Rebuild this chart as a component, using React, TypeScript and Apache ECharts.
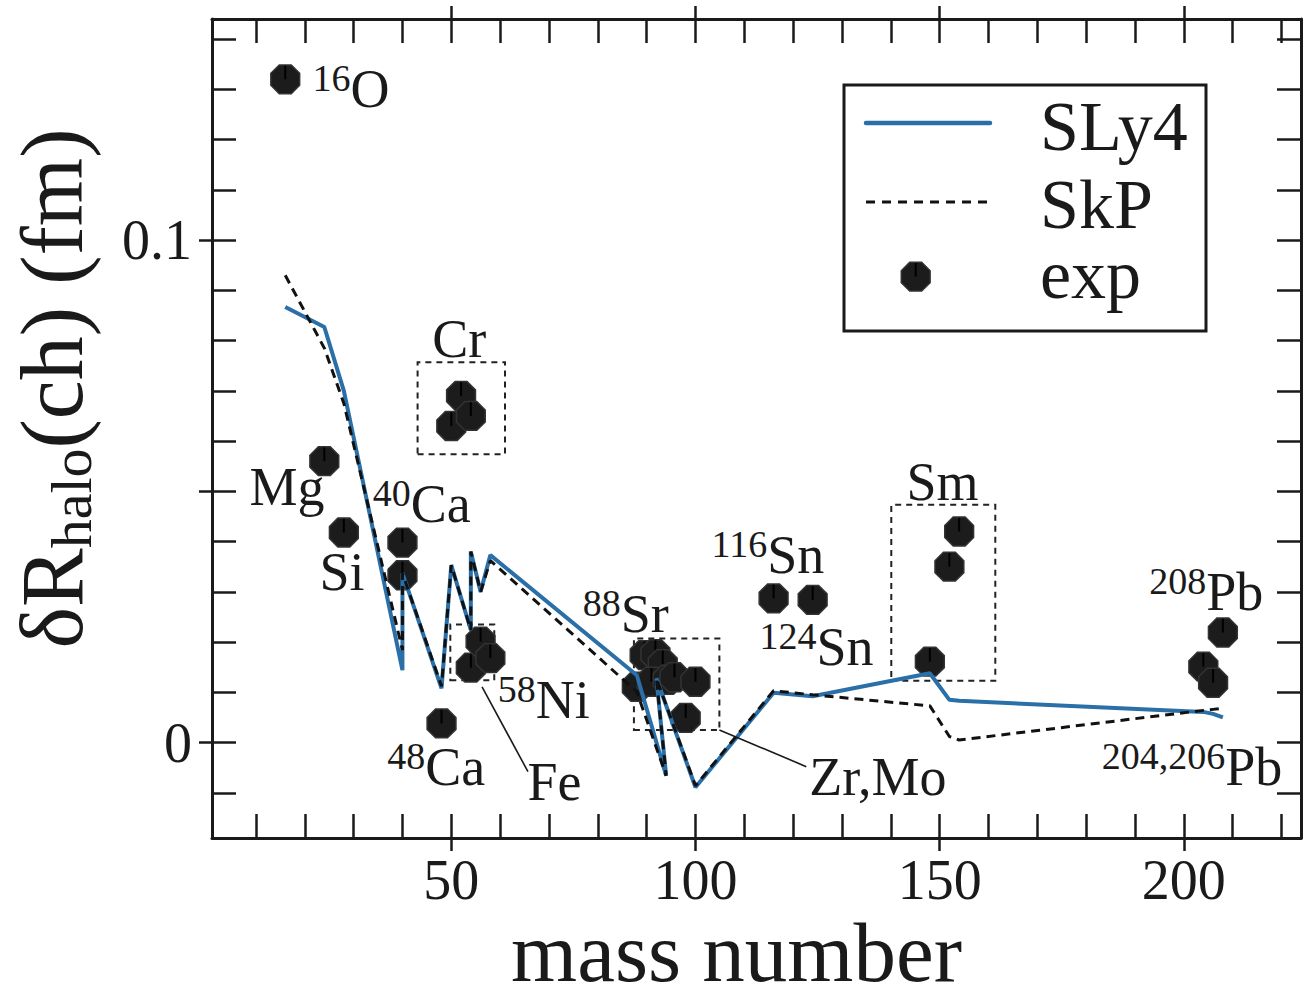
import React, { useEffect, useRef } from "react";
import * as echarts from "echarts";

// Axis extents and ticks (mass number on x, halo radius difference in fm on y)
const X_MIN = 1;
const X_MAX = 224;
const Y_MIN = -0.019;
const Y_MAX = 0.144;
const X_MINOR_TICKS = [10, 20, 30, 40, 50, 60, 70, 80, 90, 100, 110, 120, 130, 140, 150, 160, 170, 180, 190, 200, 210, 220];
const X_MAJOR_TICKS = [50, 100, 150, 200];
const Y_MINOR_TICKS = [-0.01, 0, 0.01, 0.02, 0.03, 0.04, 0.05, 0.06, 0.07, 0.08, 0.09, 0.1, 0.11, 0.12, 0.13, 0.14];
const Y_MAJOR_TICKS = [0, 0.05, 0.1];
const Y_TICK_LABELS = [0, 0.1];

// SLy4 Skyrme calculation, nuclei in the order they are connected
const SLY4 = [
  [16, 0.0867], [24, 0.0827], [28, 0.07], [40, 0.0144], [40, 0.0337], [48, 0.0108],
  [50, 0.0353], [54, 0.0224], [54, 0.038], [56, 0.03], [58, 0.0373], [88, 0.0134],
  [94, -0.0066], [92, 0.0128], [100, -0.0089], [116, 0.0099], [124, 0.0092],
  [148, 0.0138], [152, 0.0085], [154, 0.0083], [204, 0.0061], [206, 0.0057], [208, 0.005],
];

// SkP Skyrme calculation
const SKP = [
  [16, 0.093], [24, 0.0785], [28, 0.0675], [40, 0.0184], [40, 0.0337], [48, 0.0112],
  [50, 0.0353], [54, 0.0224], [54, 0.038], [56, 0.03], [58, 0.0362], [88, 0.0101],
  [94, -0.0066], [92, 0.0128], [100, -0.0086], [116, 0.0103], [124, 0.0095],
  [148, 0.0073], [152, 0.0012], [154, 0.0005], [204, 0.0064], [206, 0.0066], [208, 0.0068],
];

// Experimental values
const EXP = [
  [16, 0.132], [24, 0.056], [28, 0.0418], [40, 0.0398], [40, 0.0333], [48, 0.0038],
  [50, 0.063], [52, 0.069], [54, 0.065],
  [54, 0.0149], [56, 0.0201], [58, 0.0168],
  [88, 0.0111], [89.6, 0.0174], [91.8, 0.0176], [93.3, 0.0156], [91, 0.0121],
  [94.3, 0.0125], [95.7, 0.013], [100, 0.0121], [98, 0.0049],
  [116, 0.0287], [124, 0.0284],
  [148, 0.0161], [152, 0.035], [154, 0.042],
  [204, 0.0151], [206, 0.0119], [208, 0.0219],
];

// Nucleus labels (rich text) and where their left/middle anchor sits, in data units
const LABEL_TEXTS = [
  "{sup|16}{el|O}", "{el|Mg}", "{el|Si}", "{sup|40}{el|Ca}", "{el|Cr}", "{sup|48}{el|Ca}",
  "{sup|58}{el|Ni}", "{el|Fe}", "{sup|88}{el|Sr}", "{sup|116}{el|Sn}", "{sup|124}{el|Sn}",
  "{el|Sm}", "{el|Zr,Mo}", "{sup|208}{el|Pb}", "{sup|204,206}{el|Pb}",
];
const LABEL_ANCHORS = [
  [21.6, 0.13], [8.7, 0.0508], [23.0, 0.0339], [33.9, 0.0475], [46.1, 0.0803], [36.9, -0.0049],
  [59.5, 0.0085], [65.6, -0.0079], [76.9, 0.0256], [103.3, 0.0373], [113.1, 0.019],
  [143.2, 0.0518], [123.3, -0.0069], [192.9, 0.03], [183.2, -0.0049],
];

// Dotted frames around isotope groups: [xFrom, yFrom, xTo, yTo]
const GROUP_FRAMES = [
  [43.1, 0.0574, 61.0, 0.0757],
  [49.8, 0.0124, 58.8, 0.0235],
  [87.4, 0.0025, 104.9, 0.0207],
  [140.1, 0.0123, 161.4, 0.0473],
];

// Leader lines from a group to its label: [x1, y1, x2, y2]
const LEADERS = [
  [56.3, 0.0111, 65.7, -0.0058],
  [104.9, 0.0025, 122.7, -0.0048],
];

const FONT = '"Liberation Serif", "DejaVu Serif", serif';
const INK = "#1a1a1a";
const BLUE = "#2a6fa8";
const MARKER_R = 15.6;

function octagon(cx: number, cy: number, r: number) {
  const pts: number[][] = [];
  for (let k = 0; k < 8; k++) {
    const a = Math.PI / 8 + (k * Math.PI) / 4;
    pts.push([cx + r * Math.cos(a), cy + r * Math.sin(a)]);
  }
  return pts;
}

function markerGroup(cx: number, cy: number) {
  return [
    {
      type: "polygon",
      shape: { points: octagon(cx, cy, MARKER_R) },
      style: { fill: "#1c1c1c", stroke: "#333", lineWidth: 1.5 },
    },
    {
      type: "line",
      shape: { x1: cx, y1: cy - MARKER_R * 0.88, x2: cx, y2: cy },
      style: { stroke: "#000", lineWidth: 2 },
    },
  ];
}

export default function App() {
  const ref = useRef<HTMLDivElement>(null);

  useEffect(() => {
    if (!ref.current) return;
    const chart = echarts.init(ref.current, null, { renderer: "svg" });

    const frameLine = { show: true, onZero: false, lineStyle: { color: INK, width: 3 } };
    const hiddenLine = { show: false, onZero: false };
    const innerTicks = (vals: number[]) => ({
      show: true,
      inside: true,
      length: 24,
      customValues: vals,
      lineStyle: { color: INK, width: 2.5 },
    });
    const outerTicks = (vals: number[]) => ({
      show: true,
      inside: false,
      length: 13,
      customValues: vals,
      lineStyle: { color: INK, width: 2.5 },
    });
    const xCommon = { type: "value", min: X_MIN, max: X_MAX, splitLine: { show: false } };
    const yCommon = { type: "value", min: Y_MIN, max: Y_MAX, splitLine: { show: false } };

    const option = {
      animation: false,
      backgroundColor: "#ffffff",
      grid: { left: 212, right: 3, top: 19, bottom: 164, containLabel: false, outerBoundsMode: "none" },
      xAxis: [
        { ...xCommon, position: "bottom", axisLine: frameLine, axisTick: innerTicks(X_MINOR_TICKS), axisLabel: { show: false } },
        {
          ...xCommon,
          position: "bottom",
          axisLine: hiddenLine,
          axisTick: outerTicks(X_MAJOR_TICKS),
          axisLabel: { show: true, customValues: X_MAJOR_TICKS, margin: 14, fontFamily: FONT, fontSize: 56, color: INK },
          name: "mass number",
          nameLocation: "middle",
          nameGap: 79,
          nameMoveOverlap: false,
          nameTextStyle: { fontFamily: FONT, fontSize: 85, lineHeight: 70, color: INK, padding: [0, 40, 0, 0] },
        },
        { ...xCommon, position: "top", axisLine: frameLine, axisTick: innerTicks(X_MINOR_TICKS), axisLabel: { show: false } },
        { ...xCommon, position: "top", axisLine: hiddenLine, axisTick: outerTicks(X_MAJOR_TICKS), axisLabel: { show: false } },
      ],
      yAxis: [
        { ...yCommon, position: "left", axisLine: frameLine, axisTick: innerTicks(Y_MINOR_TICKS), axisLabel: { show: false } },
        {
          ...yCommon,
          position: "left",
          axisLine: hiddenLine,
          axisTick: outerTicks(Y_MAJOR_TICKS),
          axisLabel: { show: true, customValues: Y_TICK_LABELS, margin: 20, fontFamily: FONT, fontSize: 56, color: INK },
          name: "{m|δR}{s|halo}{m|(ch) (fm)}",
          nameLocation: "middle",
          nameGap: 112,
          nameMoveOverlap: false,
          nameTextStyle: {
            fontFamily: FONT,
            color: INK,
            padding: [0, 0, 0, 80],
            rich: {
              m: { fontFamily: FONT, fontSize: 88, lineHeight: 96, color: INK },
              s: { fontFamily: FONT, fontSize: 58, lineHeight: 50, verticalAlign: "bottom", color: INK },
            },
          },
        },
        { ...yCommon, position: "right", axisLine: frameLine, axisTick: innerTicks(Y_MINOR_TICKS), axisLabel: { show: false } },
      ],
      graphic: [
        {
          type: "group",
          z: 100,
          children: [
            { type: "rect", shape: { x: 844, y: 85, width: 362, height: 246 }, style: { fill: "#fff", stroke: INK, lineWidth: 3 } },
            { type: "line", shape: { x1: 866, y1: 123, x2: 990, y2: 123 }, style: { stroke: BLUE, lineWidth: 4.5, lineCap: "round" } },
            { type: "line", shape: { x1: 866, y1: 202, x2: 990, y2: 202 }, style: { stroke: "#111", lineWidth: 3, lineDash: [9, 7] } },
            ...markerGroup(915.7, 276.7),
            { type: "text", style: { x: 1040, y: 126, text: "SLy4", fontFamily: FONT, fontSize: 70, fill: INK, verticalAlign: "middle" } },
            { type: "text", style: { x: 1040, y: 204, text: "SkP", fontFamily: FONT, fontSize: 70, fill: INK, verticalAlign: "middle" } },
            { type: "text", style: { x: 1040, y: 274, text: "exp", fontFamily: FONT, fontSize: 70, fill: INK, verticalAlign: "middle" } },
          ],
        },
      ],
      series: [
        {
          name: "exp",
          type: "custom",
          xAxisIndex: 0,
          yAxisIndex: 0,
          data: EXP,
          encode: { x: 0, y: 1 },
          renderItem: (_params: any, api: any) => {
            const p = api.coord([api.value(0), api.value(1)]);
            return { type: "group", children: markerGroup(p[0], p[1]) };
          },
        },
        {
          name: "SLy4",
          type: "line",
          xAxisIndex: 0,
          yAxisIndex: 0,
          data: SLY4,
          showSymbol: false,
          lineStyle: { color: BLUE, width: 4 },
          z: 3,
        },
        {
          name: "SkP",
          type: "line",
          xAxisIndex: 0,
          yAxisIndex: 0,
          data: SKP,
          showSymbol: false,
          lineStyle: { color: "#111", width: 3, type: [9, 6] },
          z: 4,
          markArea: {
            silent: true,
            itemStyle: { color: "rgba(0,0,0,0)", borderColor: "#222", borderWidth: 2, borderType: [6, 5] },
            data: GROUP_FRAMES.map((f) => [{ coord: [f[0], f[1]] }, { coord: [f[2], f[3]] }]),
          },
          markLine: {
            silent: true,
            symbol: ["none", "none"],
            label: { show: false },
            lineStyle: { color: INK, width: 1.6, type: "solid" },
            data: LEADERS.map((l) => [{ coord: [l[0], l[1]] }, { coord: [l[2], l[3]] }]),
          },
        },
        {
          name: "labels",
          type: "scatter",
          xAxisIndex: 0,
          yAxisIndex: 0,
          symbolSize: 0,
          silent: true,
          z: 5,
          itemStyle: { opacity: 1, color: INK },
          data: LABEL_ANCHORS.map((a, i) => ({
            value: a,
            label: { formatter: LABEL_TEXTS[i] },
          })),
          label: {
            show: true,
            position: [0, 0],
            align: "left",
            verticalAlign: "middle",
            color: INK,
            opacity: 1,
            rich: {
              el: { fontFamily: FONT, fontSize: 54, lineHeight: 60, color: INK, opacity: 1 },
              sup: { fontFamily: FONT, fontSize: 38, lineHeight: 38, verticalAlign: "top", color: INK, opacity: 1 },
            },
          },
        },
      ],
    };

    chart.setOption(option as any);
    return () => chart.dispose();
  }, []);

  return (
    <div
      ref={ref}
      style={{ position: "fixed", left: 0, top: 0, width: 1304, height: 1002, background: "#fff" }}
    />
  );
}
